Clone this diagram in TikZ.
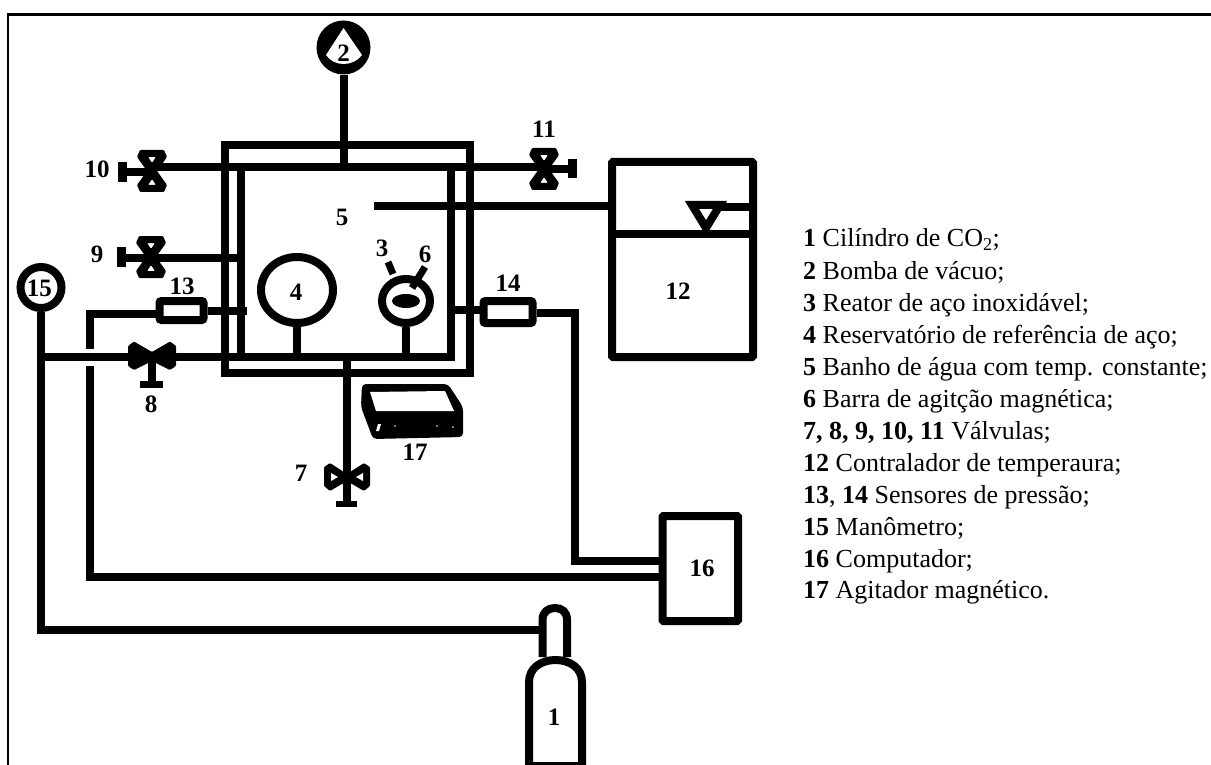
\documentclass[tikz,border=0pt]{standalone}
\usepackage{fontspec}
\setmainfont{Liberation Serif}
\usetikzlibrary{calc,shapes.geometric}
\tikzset{
  x=1pt,y=-1pt,
  pipe/.style={line width=8pt,line cap=butt,line join=miter},
  num/.style={font=\fontsize{25}{25}\selectfont\bfseries,inner sep=0pt},
  legend/.style={font=\fontsize{26}{26}\selectfont,inner sep=0pt,anchor=base west},
  gauge/.style={circle,draw,line width=8pt,inner sep=0pt},
  sensor/.style={draw,line width=8pt,rounded corners=2pt,inner sep=0pt,fill=white},
  panel/.style={draw,line width=8pt,inner sep=0pt,rounded corners=1pt},
  vvalve/.pic={
    \fill[even odd rule,rounded corners=1pt] (-12,-21)--(12,-21)--(15,-14)--(5,0)--(15,14)--(12,21)--(-12,21)--(-15,14)--(-5,0)--(-15,-14)--cycle
      (-4,-14)--(4,-14)--(0,-8)--cycle (-4,14)--(4,14)--(0,8)--cycle;
  },
  hvalve/.pic={
    \fill[rounded corners=1pt] (-24,-10)--(-18,-14.5)--(0,-4)--(18,-14.5)--(24,-10)--(24,10)--(18,14)--(0,5)--(-18,14)--(-24,10)--cycle;
  },
  hvalveholes/.pic={
    \fill[rounded corners=1pt] (-23,-10)--(-17,-14)--(0,-3)--(17,-14)--(23,-10)--(23,9)--(17,14)--(0,4)--(-17,14)--(-23,9)--cycle;
    \fill[white] (-16,-4)--(-16,4)--(-9,0)--cycle (16,-4)--(16,4)--(9,0)--cycle;
  },
}
\begin{document}
\begin{tikzpicture}
\useasboundingbox (0,0) rectangle (1211,765);
\fill[white] (0,0) rectangle (1211,765);
% frame
\draw[line width=2.2pt] (8,765)--(8,14.5)--(1211,14.5);

% named points
\coordinate (bathTL) at (224.5,145.5);
\coordinate (bathTR) at (470,145.5);
\coordinate (bathBR) at (470,372.5);
\coordinate (bathBL) at (224.5,372.5);
\coordinate (inTL) at (241,167.5);
\coordinate (inBL) at (241,356);
\coordinate (inTR) at (451,167.5);
\coordinate (inBR) at (451,356);
\coordinate (v10) at (152,171);
\coordinate (v11) at (544,169);
\coordinate (v9) at (151,257);
\coordinate (v8) at (152,356);
\coordinate (v7) at (347,477);
\coordinate (pumpj) at (343.5,167.5);
\coordinate (t5) at (374,206.5);
\coordinate (j8) at (41,356.5);
\coordinate (h10) at (122,172);
\coordinate (h11) at (572,169);
\coordinate (h9) at (121,257.5);
\coordinate (h8) at (152,385);
\coordinate (h7) at (347,507);
\coordinate (cylneckL) at (542.5,630);
\coordinate (j4) at (297,356);
\coordinate (j3) at (406,356);
\coordinate (j7) at (347,356);
\coordinate (w9) at (241,257.5);
\coordinate (e14) at (455,309.5);
\coordinate (e13) at (247,311);
\coordinate (level) at (706,234);
\coordinate (lvl) at (718,207.5);
\coordinate (rr14) at (575,313);
\coordinate (rd14) at (575,561);
\coordinate (rr13) at (90,313.5);
\coordinate (gapA) at (90,349);
\coordinate (gapB) at (90,366);
\coordinate (rd13) at (90,577);
\coordinate (corner15) at (41,630);

% equipment
\node[circle,fill=black,minimum size=54pt,inner sep=0pt] (pump) at (343.5,47.5) {};
\node[gauge,minimum size=41pt] (g15) at (41,287.5) {};
\node[sensor,minimum width=44pt,minimum height=19pt] (s13) at (181.5,310.5) {};
\node[sensor,minimum width=49pt,minimum height=22pt] (s14) at (508,312) {};
\node[panel,minimum width=141pt,minimum height=195pt] (b12) at (682.5,259.5) {};
\node[panel,minimum width=75.5pt,minimum height=105pt] (b16) at (700.25,568.5) {};

% water bath walls
\draw[pipe] (bathBL)--(bathTL)--(bathTR)--(bathBR)--cycle;
\draw[pipe] (inBR)--(inTR) (inBL)--(inTL);
\draw[pipe] (v10 |- pumpj)--(v11 |- pumpj);
\draw[pipe] (pump.south)--(pumpj);
\draw[pipe] (h9)--(w9);
\draw[pipe] (j8)--(455,356.5);
\draw[pipe] (j7)--(h7);
\draw[pipe] (g15.south)--(corner15)--(cylneckL);
\draw[pipe] (t5)--(b12.west |- t5);
\draw[pipe] (s13.east |- e13)--(e13);
\draw[pipe] (e14)--(s14.west |- e14);
\draw[pipe] (s14.east |- rr14)--(rr14)--(rd14)--(b16.west |- rd14);
\draw[pipe] (s13.west |- rr13)--(rr13)--(gapA);
\draw[pipe] (gapB)--(rd13)--(b16.west |- rd13);

% reservoir 4 and reactor 3
\node[draw,ellipse,line width=8pt,minimum width=72pt,minimum height=66pt,inner sep=0pt] (r4) at (297,290) {};
\node[draw,ellipse,line width=8pt,minimum width=48pt,minimum height=44pt,inner sep=0pt] (r3) at (406,301) {};
\fill (r3.center) ellipse [x radius=14, y radius=7];
\draw[pipe] (r4.south)--(j4);
\draw[pipe] (r3.south)--(j3);
\coordinate (t3a) at (388,262);
\coordinate (t3b) at (393,274);
\coordinate (t6a) at (425,267);
\coordinate (t6b) at (412,288);
\draw[line width=7pt] (t3a)--(t3b);
\draw[line width=7pt] (t6a)--(t6b);

% valves
\draw[pipe] (v10 |- h10)--(h10);
\draw[pipe] (v11)--(h11);
\draw[pipe] (v8)--(h8);
\pic at (v10) {vvalve};
\pic at (v11) {vvalve};
\pic at (v9) {vvalve};
\pic at (v8) {hvalve};
\pic at (v7) {hvalveholes};
% handles
\draw[line width=9pt] (122.5,162)--(122.5,182);
\draw[line width=9pt] (572.5,159)--(572.5,178);
\draw[line width=9pt] (121.5,247)--(121.5,267);
\draw[line width=7pt] (140,384.5)--(163,384.5);
\draw[line width=6.5pt] (336,504)--(357,504);

% level triangle in 12
\draw[line width=8pt,line join=miter] (692,205)--(720,205)--(706,228)--cycle;
\draw[pipe] (b12.west |- level)--(b12.east |- level);
\draw[pipe] (lvl)--(b12.east |- lvl);

% vacuum pump sector
\fill[white] (343.5,28)--(326,55) .. controls (334,67) and (353,67) .. (362,55)--cycle;

% cylinder
\draw[pipe,line join=round,fill=white] (529,765)--(529,682) .. controls (529,668) and (541,660) .. (555.5,660) .. controls (570,660) and (582,668) .. (582,682)--(582,765);
\draw[line width=4pt] (529,763.5)--(582,763.5);
\draw[pipe] (542.5,657)--(542.5,620) .. controls (542.5,612) and (548,608) .. (555,608) .. controls (562,608) and (567,612) .. (567,620)--(567,657);

% stirrer 17
\fill[rounded corners=4pt] (362,384)--(448,384)--(463,407)--(463,437)--(373,439)--(361,407)--cycle;
\fill[white] (370,392)--(445,391)--(454,411)--(376,411)--cycle;
\fill[white] (378,424)--(381,424)--(379,431)--(376,431)--cycle;
\fill[white] (395,426) circle [radius=0.9] (437,426) circle [radius=0.9] (453,427) circle [radius=0.9];

% labels
\node[num] (n2) at (343.5,53) {2};
\node[num] (n10) at (97,169) {10};
\node[num] (n11) at (544,129) {11};
\node[num] (n9) at (97,254) {9};
\node[num] (n13) at (182,286) {13};
\node[num] (n15) at (39.5,288) {15};
\node[num] (n8) at (151,404) {8};
\node[num] (n7) at (301,473) {7};
\node[num] (n4) at (296,292) {4};
\node[num] (n5) at (342,217) {5};
\node[num] (n3) at (382,248) {3};
\node[num] (n6) at (425,254) {6};
\node[num] (n14) at (508,283) {14};
\node[num] (n12) at (678,291) {12};
\node[num] (n17) at (415,452) {17};
\node[num] (n16) at (702,568) {16};
\node[num] (n1) at (554,717) {1};

% legend
\node[legend] (l1) at (803,247) {\textbf{1} Cilíndro de CO\textsubscript{2};};
\node[legend] (l2) at (803,279) {\textbf{2} Bomba de vácuo;};
\node[legend] (l3) at (803,311) {\textbf{3} Reator de aço inoxidável;};
\node[legend] (l4) at (803,343) {\textbf{4} Reservatório de referência de aço;};
\node[legend] (l5) at (803,375) {\textbf{5} Banho de água com temp. constante;};
\node[legend] (l6) at (803,407) {\textbf{6} Barra de agitção magnética;};
\node[legend] (l7) at (803,439) {\textbf{7, 8, 9, 10, 11} Válvulas;};
\node[legend] (l8) at (803,471) {\textbf{12} Contralador de temperaura;};
\node[legend] (l9) at (803,503) {\textbf{13}, \textbf{14} Sensores de pressão;};
\node[legend] (l10) at (803,535) {\textbf{15} Manômetro;};
\node[legend] (l11) at (803,567) {\textbf{16} Computador;};
\node[legend] (l12) at (803,598) {\textbf{17} Agitador magnético.};
\end{tikzpicture}
\end{document}
